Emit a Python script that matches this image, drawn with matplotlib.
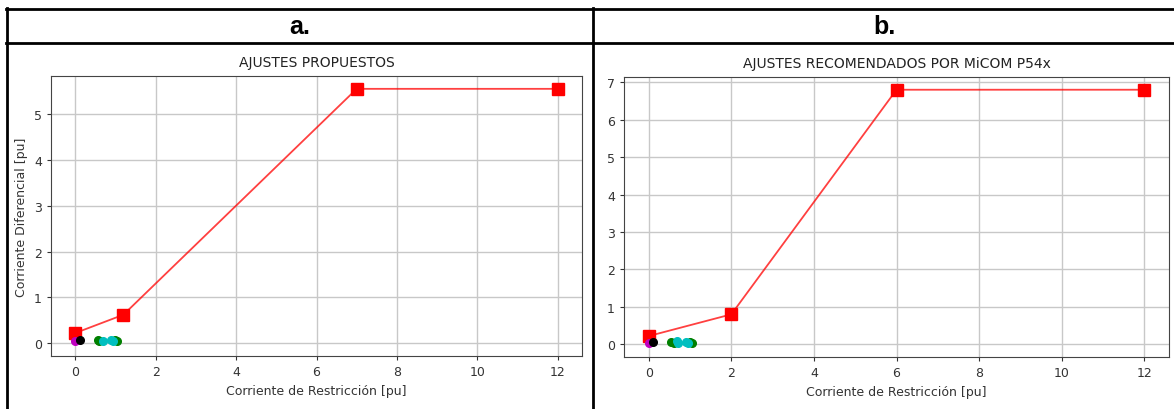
import matplotlib
matplotlib.use("Agg")
import matplotlib.pyplot as plt
from matplotlib.lines import Line2D

# ---- data ----
titles = ["AJUSTES PROPUESTOS", "AJUSTES RECOMENDADOS POR MiCOM P54x"]
panel_tags = ["a.", "b."]

curve_a_x = [0, 1.2, 7, 12]
curve_a_y = [0.22, 0.62, 5.55, 5.55]
curve_b_x = [0, 2, 6, 12]
curve_b_y = [0.22, 0.8, 6.8, 6.8]

# measured points (colour -> x, y)
dots_a = {
    "m": ([0.0], [0.05]),
    "k": ([0.12], [0.06]),
    "g": ([0.56, 0.6, 1.0, 1.04], [0.07, 0.05, 0.07, 0.05]),
    "c": ([0.7, 0.88, 0.93], [0.05, 0.07, 0.05]),
}
dots_b = {
    "m": ([0.0], [0.03]),
    "k": ([0.1], [0.05]),
    "g": ([0.55, 0.6, 1.0, 1.04], [0.05, 0.04, 0.07, 0.04]),
    "c": ([0.68, 0.7, 0.9, 0.94], [0.08, 0.04, 0.05, 0.04]),
}

xticks = [0, 2, 4, 6, 8, 10, 12]
yticks_a = [0, 1, 2, 3, 4, 5]
yticks_b = [0, 1, 2, 3, 4, 5, 6, 7]

plt.rcParams['font.family'] = ['DejaVu Sans']

W, H = 1174, 410
fig = plt.figure(figsize=(W / 100, H / 100), dpi=100)


def px_axes(l, t, r, b):
    return fig.add_axes([l / W, (H - b) / H, (r - l) / W, (b - t) / H])


def draw_panel(ax, cx, cy, dots, yticks, title, ylabel=None):
    ax.plot(cx, cy, color="red", lw=1.3, alpha=0.75, zorder=2)
    ax.plot(cx, cy, "s", color="red", ms=8, zorder=3)
    for col, (xs, ys) in dots.items():
        ax.plot(xs, ys, "o", color=col, ms=5.5, zorder=4)
    ax.set_xticks(xticks)
    ax.set_yticks(yticks)
    ax.grid(True, color="#c8c8c8", lw=1)
    ax.set_axisbelow(True)
    for s in ax.spines.values():
        s.set_color("#444444")
    ax.tick_params(labelsize=9, colors="#333333", length=3)
    ax.set_title(title, fontsize=10, color="#222222", pad=7)
    ax.set_xlabel("Corriente de Restricción [pu]", fontsize=9, color="#333333")
    if ylabel:
        ax.set_ylabel(ylabel, fontsize=9, color="#333333")


ax1 = px_axes(51, 77, 582, 357)
draw_panel(ax1, curve_a_x, curve_a_y, dots_a, yticks_a, titles[0],
           "Corriente Diferencial [pu]")
ax1.set_xlim(-0.6, 12.6)
ax1.set_ylim(-0.28, 5.83)

ax2 = px_axes(624, 78, 1169, 358)
draw_panel(ax2, curve_b_x, curve_b_y, dots_b, yticks_b, titles[1])
ax2.set_xlim(-0.6, 12.6)
ax2.set_ylim(-0.34, 7.14)

# ---- table frame ----
def hline(y, x0, x1):
    fig.add_artist(Line2D([x0 / W, x1 / W], [(H - y) / H, (H - y) / H],
                          color="black", lw=2))


def vline(x, y0, y1):
    fig.add_artist(Line2D([x / W, x / W], [(H - y0) / H, (H - y1) / H],
                          color="black", lw=2))


hline(10, 6, 1174)
hline(44, 6, 1174)
vline(7, 9, 410)
vline(593, 9, 410)

fig.text(300 / W, (H - 27) / H, panel_tags[0], ha="center", va="center",
         fontsize=18, fontweight="bold", family="Liberation Sans")
fig.text(884 / W, (H - 27) / H, panel_tags[1], ha="center", va="center",
         fontsize=18, fontweight="bold", family="Liberation Sans")

fig.savefig("out.png", dpi=100)
